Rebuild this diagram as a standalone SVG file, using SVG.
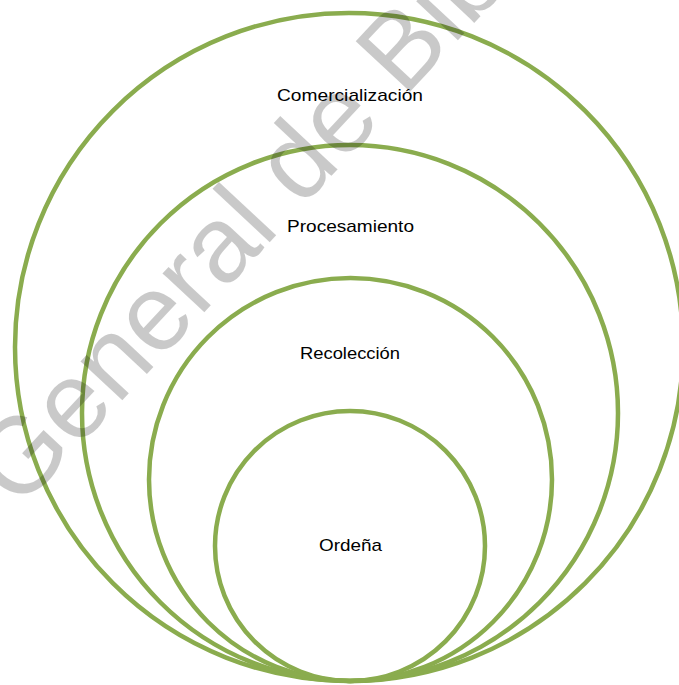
<svg xmlns="http://www.w3.org/2000/svg" width="679" height="685" viewBox="0 0 679 685">
<style>
.ring{fill:none;stroke:#8AAC4E;stroke-width:4.5}
.lbl{font-family:"Liberation Sans",Arial,sans-serif;font-size:17px;fill:#000;text-anchor:middle}
.wm{font-family:"Liberation Sans",Arial,sans-serif;font-size:108px;fill:#000;fill-opacity:0.21}
</style>
<rect width="679" height="685" fill="#fff"/>
<g id="comercializacion">
<circle class="ring" cx="349" cy="347" r="334"/>
<text class="lbl" x="350" y="101" textLength="146" lengthAdjust="spacingAndGlyphs">Comercialización</text>
</g>
<g id="procesamiento">
<circle class="ring" cx="350" cy="413" r="268"/>
<text class="lbl" x="350.5" y="232" textLength="127" lengthAdjust="spacingAndGlyphs">Procesamiento</text>
</g>
<g id="recoleccion">
<circle class="ring" cx="350.5" cy="479.5" r="201.5"/>
<text class="lbl" x="350" y="359" textLength="100" lengthAdjust="spacingAndGlyphs">Recolección</text>
</g>
<g id="ordena">
<circle class="ring" cx="350" cy="546" r="135"/>
<text class="lbl" x="350.5" y="551" textLength="63" lengthAdjust="spacingAndGlyphs">Ordeña</text>
</g>
<g id="connectors"/>
<g id="watermark">
<text class="wm" transform="translate(19,511) rotate(-47)">General de Bib</text>
</g>
</svg>
